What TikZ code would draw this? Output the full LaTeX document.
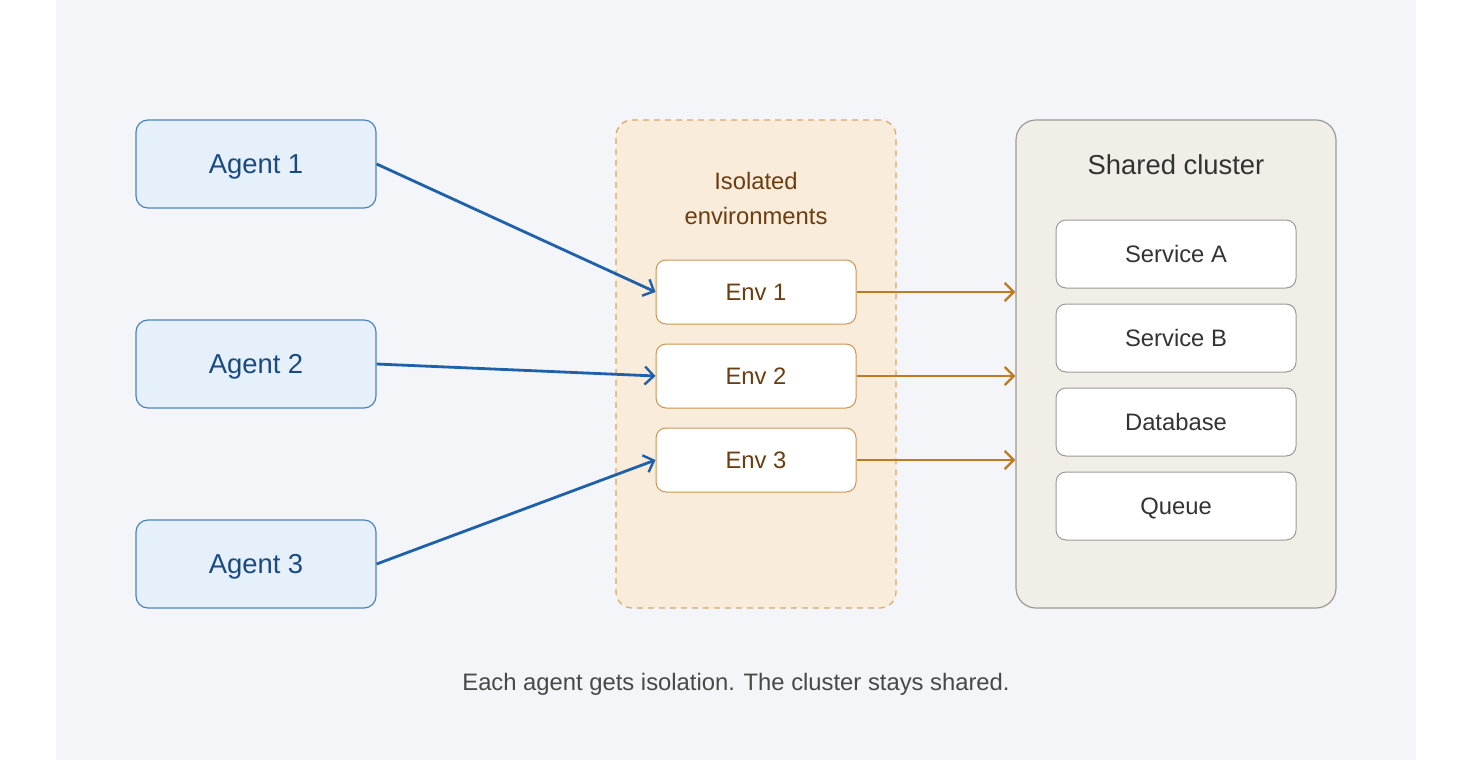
\documentclass[tikz,border=0pt]{standalone}
\usepackage{fontspec}
\setmainfont{Liberation Sans}
\usepackage{xcolor}
\usetikzlibrary{arrows.meta}

\definecolor{pagebg}{HTML}{F4F5F9}
\definecolor{agentfill}{HTML}{E6F0FB}
\definecolor{agentline}{HTML}{4C84C0}
\definecolor{agenttext}{HTML}{1A4A82}
\definecolor{flowblue}{HTML}{1E60AA}
\definecolor{isofill}{HTML}{FAECDA}
\definecolor{isoline}{HTML}{D8A868}
\definecolor{envline}{HTML}{CC9550}
\definecolor{envtext}{HTML}{6B3D10}
\definecolor{flowbrown}{HTML}{C07A22}
\definecolor{clusterfill}{HTML}{F1EEE8}
\definecolor{clusterline}{HTML}{9C9A96}
\definecolor{darktext}{HTML}{333333}
\definecolor{captiontext}{HTML}{484848}

\begin{document}
\begin{tikzpicture}[x=0.5pt,y=-0.5pt,
    agent/.style={draw=agentline,fill=agentfill,text=agenttext,rounded corners=6pt,line width=0.6pt,
      minimum width=120pt,minimum height=44pt,inner sep=0pt,text depth=0pt,font=\fontsize{13.7}{16}\selectfont},
    env/.style={draw=envline,fill=white,text=envtext,rounded corners=5pt,line width=0.5pt,
      minimum width=100pt,minimum height=32pt,inner sep=0pt,text depth=0pt,font=\fontsize{11.9}{14}\selectfont},
    service/.style={draw=clusterline,fill=white,text=darktext,rounded corners=5pt,line width=0.5pt,
      minimum width=120pt,minimum height=34pt,inner sep=0pt,text depth=0pt,font=\fontsize{11.9}{14}\selectfont},
    blueflow/.style={draw=flowblue,line width=1.4pt,-{Straight Barb[length=4.5pt,width=9pt,line width=1.2pt]}},
    brownflow/.style={draw=flowbrown,line width=1.4pt,-{Straight Barb[length=4.5pt,width=9pt,line width=1.2pt]}}]
    % page and panel
    \fill[white] (0,0) rectangle (1472,760);
    \fill[pagebg] (56,0) rectangle (1416,760);

    % containers
    \node[draw=isoline,fill=isofill,dashed,dash pattern=on 3pt off 2.5pt,line width=0.6pt,rounded corners=8pt,
      minimum width=140pt,minimum height=244pt,inner sep=0pt] (isolated) at (756,364) {};
    \node[text=envtext,align=center,font=\fontsize{11.9}{17.5}\selectfont] (isotitle) at (756,198) {Isolated\\environments};
    \node[draw=clusterline,fill=clusterfill,line width=0.6pt,rounded corners=10pt,
      minimum width=160pt,minimum height=244pt,inner sep=0pt] (cluster) at (1176,364) {};
    \node[text=darktext,text depth=0pt,font=\fontsize{13.7}{16}\selectfont] (clustertitle) at (1176,165) {Shared cluster};

    % agents
    \node[agent] (agentone) at (256,164) {Agent 1};
    \node[agent] (agenttwo) at (256,364) {Agent 2};
    \node[agent] (agentthree) at (256,564) {Agent 3};

    % environments
    \node[env] (envone) at (756,292) {Env 1};
    \node[env] (envtwo) at (756,376) {Env 2};
    \node[env] (envthree) at (756,460) {Env 3};

    % shared services
    \node[service] (servicea) at (1176,254) {Service A};
    \node[service] (serviceb) at (1176,338) {Service B};
    \node[service] (database) at (1176,422) {Database};
    \node[service] (queue) at (1176,506) {Queue};

    % connectors
    \draw[blueflow] (agentone.east) -- (envone.west);
    \draw[blueflow] (agenttwo.east) -- (envtwo.west);
    \draw[blueflow] (agentthree.east) -- (envthree.west);
    \draw[brownflow] (envone.east) -- (envone.east -| cluster.west);
    \draw[brownflow] (envtwo.east) -- (envtwo.east -| cluster.west);
    \draw[brownflow] (envthree.east) -- (envthree.east -| cluster.west);

    \node[text=captiontext,text depth=0pt,font=\fontsize{11.9}{14}\selectfont] (caption) at (736,682) {Each agent gets isolation. The cluster stays shared.};
\end{tikzpicture}
\end{document}
